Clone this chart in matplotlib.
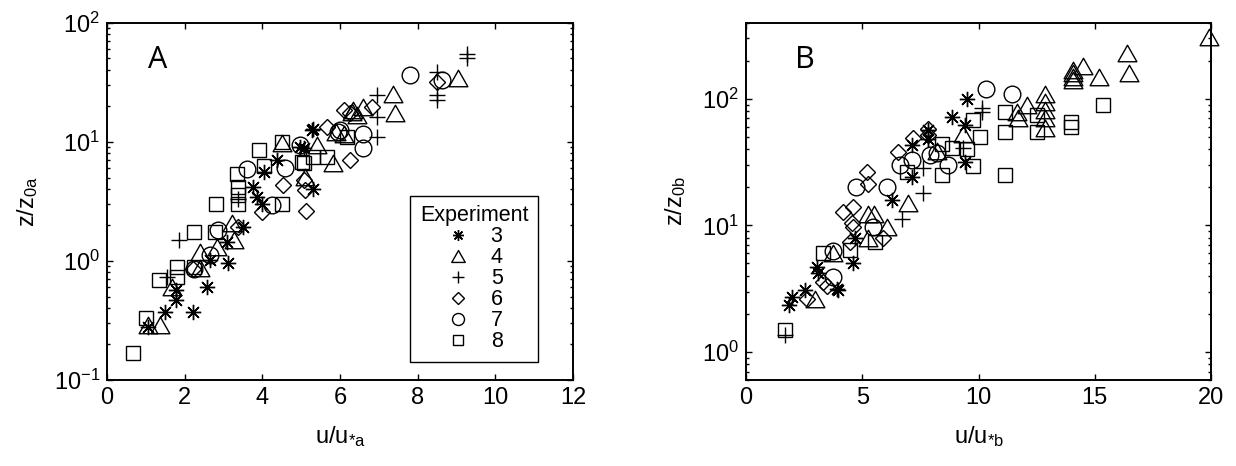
import matplotlib
matplotlib.use('Agg')
import matplotlib.pyplot as plt
from matplotlib.lines import Line2D
from matplotlib.path import Path

plt.rcParams['font.family'] = ['Liberation Sans', 'DejaVu Sans']
plt.rcParams['mathtext.fontset'] = 'custom'
plt.rcParams['mathtext.rm'] = 'Liberation Sans'
plt.rcParams['mathtext.it'] = 'Liberation Sans:italic'
plt.rcParams['mathtext.bf'] = 'Liberation Sans:bold'

experiments = ['3', '4', '5', '6', '7', '8']

# panel A: u/u*a , z/z0a
a3_u = [1.06, 1.49, 2.22, 1.78, 1.78, 2.57, 2.65, 3.12, 3.08, 3.51, 3.98, 5.31, 4.37, 4.03, 3.86, 3.77, 5.31, 5.06, 5.27, 4.97]
a3_z = [0.28, 0.37, 0.37, 0.47, 0.57, 0.60, 1.01, 0.96, 1.44, 1.93, 3.0, 4.05, 7.0, 5.6, 3.45, 4.2, 12.9, 8.8, 12.5, 9.1]
a4_u = [1.06, 1.37, 1.67, 2.40, 2.40, 3.21, 3.26, 2.83, 4.50, 5.83, 7.37, 7.42, 6.60, 6.34, 6.43, 9.05, 5.10, 5.40, 6.30, 5.90, 6.10]
a4_z = [0.29, 0.29, 0.60, 0.87, 1.19, 2.06, 1.49, 1.31, 9.7, 6.6, 25.4, 17.3, 19.6, 18.4, 16.7, 34.0, 5.1, 9.4, 17.8, 12.0, 11.6]
a5_u = [1.54, 1.85, 3.38, 6.95, 6.95, 6.96, 9.26, 9.26, 8.49, 8.49, 8.49]
a5_z = [0.73, 1.51, 3.3, 24.6, 16.2, 10.9, 50.0, 54.0, 38.6, 24.6, 22.4]
a6_u = [3.98, 5.12, 4.54, 5.06, 5.10, 3.38, 2.22, 5.66, 6.82, 6.26, 6.26, 8.49, 6.10]
a6_z = [2.58, 2.63, 4.3, 4.8, 3.9, 1.93, 0.86, 13.3, 19.6, 17.3, 7.0, 31.9, 18.5]
a7_u = [2.25, 2.65, 2.87, 4.24, 4.59, 3.60, 4.97, 6.60, 6.60, 5.96, 7.79, 8.62, 6.00]
a7_z = [0.86, 1.12, 1.81, 2.94, 6.0, 5.85, 9.4, 11.7, 8.8, 12.1, 36.3, 32.9, 12.5]
a8_u = [0.68, 1.00, 1.35, 1.79, 1.79, 2.25, 2.24, 2.79, 2.81, 3.36, 3.36, 3.36, 4.50, 3.92, 4.50, 4.04, 3.34, 5.01, 5.06, 5.31, 5.66, 6.17]
a8_z = [0.17, 0.33, 0.69, 0.88, 0.73, 0.88, 1.75, 1.75, 3.0, 3.0, 3.57, 4.2, 3.0, 8.5, 10.0, 6.2, 5.4, 6.8, 6.6, 7.5, 7.5, 11.0]

# panel B: u/u*b , z/z0b
b3_u = [1.86, 1.97, 2.54, 3.90, 3.11, 3.04, 4.59, 4.69, 3.97, 6.27, 7.13, 7.13, 7.84, 7.84, 8.85, 9.42, 9.49, 9.42]
b3_z = [2.34, 2.72, 3.07, 3.17, 4.17, 4.7, 5.06, 7.9, 3.07, 15.8, 24.2, 43.0, 56.6, 48.0, 72.0, 62.0, 99.0, 31.8]
b4_u = [2.97, 3.76, 5.26, 6.05, 6.98, 5.26, 5.50, 8.20, 9.35, 11.64, 11.71, 12.10, 12.86, 12.86, 12.86, 12.86, 12.86,
        14.05, 14.05, 14.05, 14.05, 14.51, 15.18, 16.37, 16.47, 19.93]
b4_z = [2.64, 6.0, 7.9, 9.7, 14.9, 12.4, 12.4, 39.0, 53.0, 79.0, 70.0, 89.0, 110.0, 95.0, 81.0, 70.0, 59.0,
        169.0, 159.0, 149.0, 142.0, 181.0, 149.0, 228.0, 159.0, 309.0]
b5_u = [1.68, 6.70, 7.63, 7.63, 9.35, 10.14, 10.14]
b5_z = [1.36, 11.3, 28.2, 17.9, 40.6, 84.0, 79.0]
b6_u = [2.61, 3.32, 4.47, 4.18, 4.59, 5.90, 7.84, 7.84, 7.20, 6.55, 5.19, 5.26, 4.62, 4.55, 3.50]
b6_z = [2.64, 3.57, 7.4, 12.8, 9.7, 7.9, 58.0, 51.7, 48.7, 38.0, 26.5, 21.4, 14.0, 10.4, 3.3]
b7_u = [3.76, 3.76, 10.32, 8.70, 7.91, 8.20, 6.62, 7.13, 6.05, 4.73, 5.48, 11.43]
b7_z = [3.92, 6.3, 119.0, 30.0, 35.9, 37.0, 30.0, 32.7, 20.2, 20.2, 9.7, 110.0]
b8_u = [1.68, 3.30, 4.47, 5.55, 9.78, 10.06, 9.49, 9.78, 8.42, 8.42, 8.85, 6.91, 11.14, 11.14, 11.14, 12.53, 12.53, 13.97, 13.97, 15.37]
b8_z = [1.48, 6.0, 6.37, 7.4, 68.0, 50.0, 40.0, 29.4, 25.0, 44.0, 40.6, 26.5, 79.0, 55.0, 25.0, 74.0, 55.0, 66.0, 60.0, 89.0]

tri = Path([(0, 0.88), (-1, -0.88), (1, -0.88), (0, 0.88)], closed=True)
markers = [(8, 2, 0), tri, '+', 'D', 'o', 's']
msizes = [11.0, 13.5, 11.5, 8.5, 12.0, 9.8]


def style_axes(ax):
    ax.set_yscale('log')
    ax.tick_params(which='both', direction='in', top=True, right=True, labelsize=17, width=1.0, pad=5)
    ax.tick_params(which='major', length=4.5)
    ax.tick_params(which='minor', length=2.5)
    for s in ax.spines.values():
        s.set_linewidth(1.4)


fig = plt.figure(figsize=(12.36, 4.66), dpi=100)
axA = fig.add_axes([0.0866, 0.1845, 0.377, 0.767])
axB = fig.add_axes([0.6036, 0.1845, 0.3762, 0.767])

dataA = [(a3_u, a3_z), (a4_u, a4_z), (a5_u, a5_z), (a6_u, a6_z), (a7_u, a7_z), (a8_u, a8_z)]
dataB = [(b3_u, b3_z), (b4_u, b4_z), (b5_u, b5_z), (b6_u, b6_z), (b7_u, b7_z), (b8_u, b8_z)]

for ax, data in [(axA, dataA), (axB, dataB)]:
    for (u, z), m, ms in zip(data, markers, msizes):
        ax.plot(u, z, ls='none', marker=m, ms=ms, mfc='none', mec='k', mew=1.0, clip_on=False)
    style_axes(ax)

axA.set_xlim(0, 12)
axA.set_ylim(0.1, 100)
axA.set_xticks([0, 2, 4, 6, 8, 10, 12])
axA.set_xlabel(r'$\mathrm{u/u_{*a}}$', fontsize=17, labelpad=11)
axA.set_ylabel(r'$\mathrm{z/z_{0a}}$', fontsize=17, labelpad=10)
axA.text(0.088, 0.895, 'A', transform=axA.transAxes, fontsize=22, family='Open Sans', va='center')

axB.set_xlim(0, 20)
axB.set_ylim(0.6, 400)
axB.set_xticks([0, 5, 10, 15, 20])
axB.set_xlabel(r'$\mathrm{u/u_{*b}}$', fontsize=17, labelpad=11)
axB.set_ylabel(r'$\mathrm{z/z_{0b}}$', fontsize=17, labelpad=10)
axB.text(0.105, 0.895, 'B', transform=axB.transAxes, fontsize=22, family='Open Sans', va='center')

handles = [Line2D([], [], ls='none', marker=m, ms=ms, mfc='none', mec='k', mew=1.0)
           for m, ms in zip(markers, msizes)]
leg = axA.legend(handles, experiments, title='Experiment', loc='lower right',
                 bbox_to_anchor=(0.925, 0.05), borderaxespad=0, fontsize=15.5, title_fontsize=15.5,
                 markerscale=0.72, labelspacing=0.0, handlelength=1.2, handletextpad=0.9,
                 borderpad=0.45, fancybox=False, edgecolor='k', framealpha=1)
leg.get_frame().set_linewidth(1.0)

plt.savefig('out.png', dpi=100)
